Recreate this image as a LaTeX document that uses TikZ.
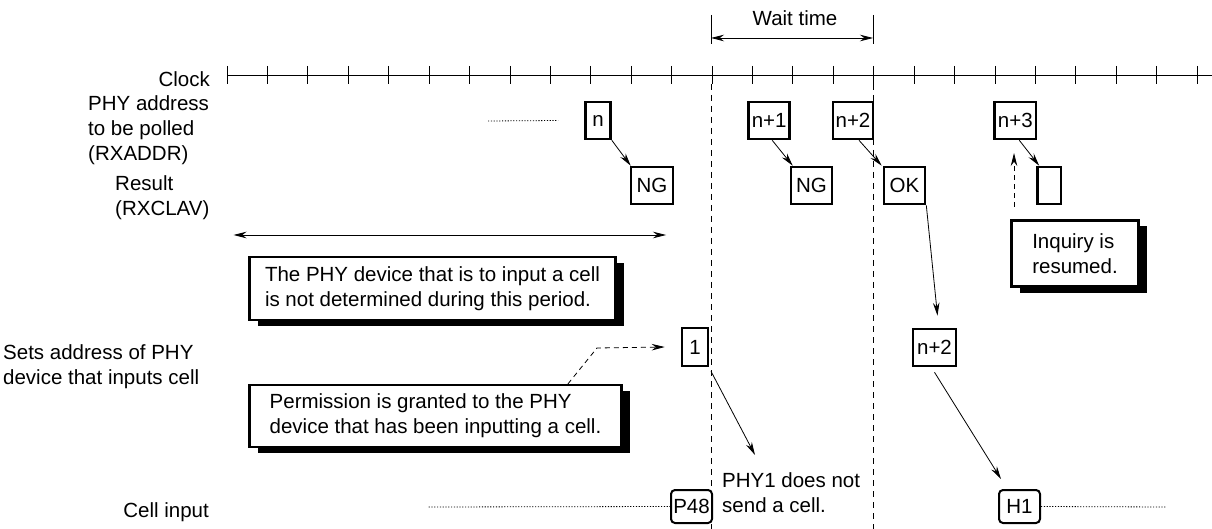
\documentclass[tikz,border=0pt]{standalone}
\usepackage{fontspec}
\setmainfont{Liberation Sans}
\usetikzlibrary{arrows.meta,shadows}
\newcommand{\lblfont}{\fontsize{20.5}{24.7}\selectfont}
\tikzset{
  lbl/.style={inner sep=0pt, font=\lblfont},
  sigbox/.style={draw, line width=2.6pt, inner sep=0pt, minimum height=37pt, font=\lblfont},
  rbox/.style={draw, line width=2pt, rounded corners=4pt, inner sep=0pt, minimum height=33pt, minimum width=41pt, font=\lblfont},
  note/.style={draw, line width=2.4pt, fill=white, align=left, inner sep=0pt, font=\lblfont,
    drop shadow={shadow xshift=8pt, shadow yshift=-6pt, fill=black, opacity=1}},
  arr/.style={line width=0.8pt, -{Stealth[length=13pt,width=6.5pt]}},
  dbl/.style={line width=0.8pt, {Stealth[length=13pt,width=6.5pt]}-{Stealth[length=13pt,width=6.5pt]}},
  vdash/.style={line width=0.9pt, dash pattern=on 6pt off 5pt},
  adash/.style={dash pattern=on 5pt off 4pt},
  dotl/.style={line width=0.8pt, dash pattern=on 1.2pt off 1.6pt},
}
\begin{document}
\begin{tikzpicture}[x=1pt,y=-1pt]
\useasboundingbox (0,0) rectangle (1212,529);
% labels
\node[lbl, anchor=center] (wt) at (795,18) {Wait time};
\node[lbl, anchor=east] (lclk) at (210,79) {Clock};
\node[lbl, anchor=west, align=left] (laddr) at (88,130) {PHY address\\to be polled\\(RXADDR)};
\node[lbl, anchor=west, align=left] (lres) at (115,198) {Result\\(RXCLAV)};
\node[lbl, anchor=west, align=left] (lsets) at (3,367) {Sets address of PHY\\device that inputs cell};
\node[lbl, anchor=east] (lcell) at (209,512) {Cell input};
% clock
\coordinate (c0) at (227,75);
\coordinate (c1) at (1212,75);
\draw[line width=0.8pt] (c0) -- (c1);
\foreach \i in {0,...,24} \draw[line width=0.8pt] ({227+40.42*\i},66) -- ({227+40.42*\i},84);
% wait time
\coordinate (wl0) at (711,15); \coordinate (wl1) at (711,44);
\coordinate (wr0) at (873,15); \coordinate (wr1) at (873,44);
\draw[line width=0.8pt] (wl0) -- (wl1);
\draw[line width=0.8pt] (wr0) -- (wr1);
\coordinate (wa) at (711,38); \coordinate (wb) at (873,38);
\draw[dbl] (wa) -- (wb);
% dashed verticals
\coordinate (d1t) at (711,84); \coordinate (d1b) at (711,529);
\coordinate (d2t) at (873,84); \coordinate (d2b) at (873,529);
\draw[vdash] (d1t) -- (d1b);
\draw[vdash] (d2t) -- (d2b);
% row 1
\node[sigbox, minimum width=25pt] (n) at (598,120.5) {n};
\node[sigbox, minimum width=41pt] (n1) at (769.2,120.5) {n+1};
\node[sigbox, minimum width=40pt] (n2) at (853,120.5) {n+2};
\node[sigbox, minimum width=41.4pt] (n3) at (1015.3,120.5) {n+3};
\coordinate (dl) at (488,121);
\draw[dotl] (dl) -- ([xshift=-26pt]n.west);
% row 2
\node[sigbox, minimum width=42pt] (ng1) at (652,185.5) {NG};
\node[sigbox, minimum width=41pt] (ng2) at (811.5,185.5) {NG};
\node[sigbox, minimum width=41pt] (ok) at (904.5,185.5) {OK};
\node[sigbox, minimum width=23.5pt] (em) at (1049.25,185.5) {};
\draw[arr] (n.south east) -- ([xshift=1pt]ng1.north west);
\draw[arr] ([xshift=3pt]n1.south) -- ([xshift=3pt]ng2.north west);
\draw[arr] ([xshift=6pt]n2.south) -- ([xshift=-1pt]ok.north west);
\draw[arr] ([xshift=4pt]n3.south) -- ([xshift=3pt]em.north west);
% period arrow
\coordinate (pa) at (233.5,235); \coordinate (pb) at (666,235);
\draw[dbl] (pa) -- (pb);
% notes
\node[note, minimum width=366pt, minimum height=63pt] (nt1) at (432.5,288.5) {The PHY device that is to input a cell\\is not determined during this period.};
\node[note, minimum width=127pt, minimum height=66pt] (nt2) at (1075,253.5) {Inquiry is\\resumed.};
\node[note, minimum width=372pt, minimum height=62pt] (perm) at (435.5,416) {Permission is granted to the PHY\\device that has been inputting a cell.};
% inquiry dashed arrow
\coordinate (ib) at (1014,207); \coordinate (it) at (1014,153);
\draw[arr, adash] (ib) -- (it);
% row 4
\node[sigbox, minimum width=26pt, minimum height=38pt] (one) at (695,347) {1};
\node[sigbox, minimum width=43pt] (nb) at (934.5,347.5) {n+2};
\coordinate (pk) at (597,348);
\draw[arr, adash] ([xshift=132.5pt]perm.north) -- (pk) -- ([xshift=-16pt]one.west);
\draw[arr] (ok.south east) -- ([xshift=3pt,yshift=12pt]nb.north);
% cell input
\node[rbox] (p48) at (691.5,506.5) {P48};
\node[rbox] (h1) at (1019.5,506.5) {H1};
\coordinate (a1end) at (755,455);
\draw[arr] ([xshift=16pt,yshift=-4pt]one.south) -- (a1end);
\draw[arr] ([yshift=-5pt]nb.south) -- ([xshift=3pt,yshift=10pt]h1.north west);
\node[lbl, anchor=west, align=left] (phy1) at (722,493) {PHY1 does not\\send a cell.};
\coordinate (cl) at (428.6,507); \coordinate (cr) at (1166,507);
\draw[dotl] (cl) -- (p48.west);
\draw[dotl] (h1.east) -- (cr);
\end{tikzpicture}
\end{document}
